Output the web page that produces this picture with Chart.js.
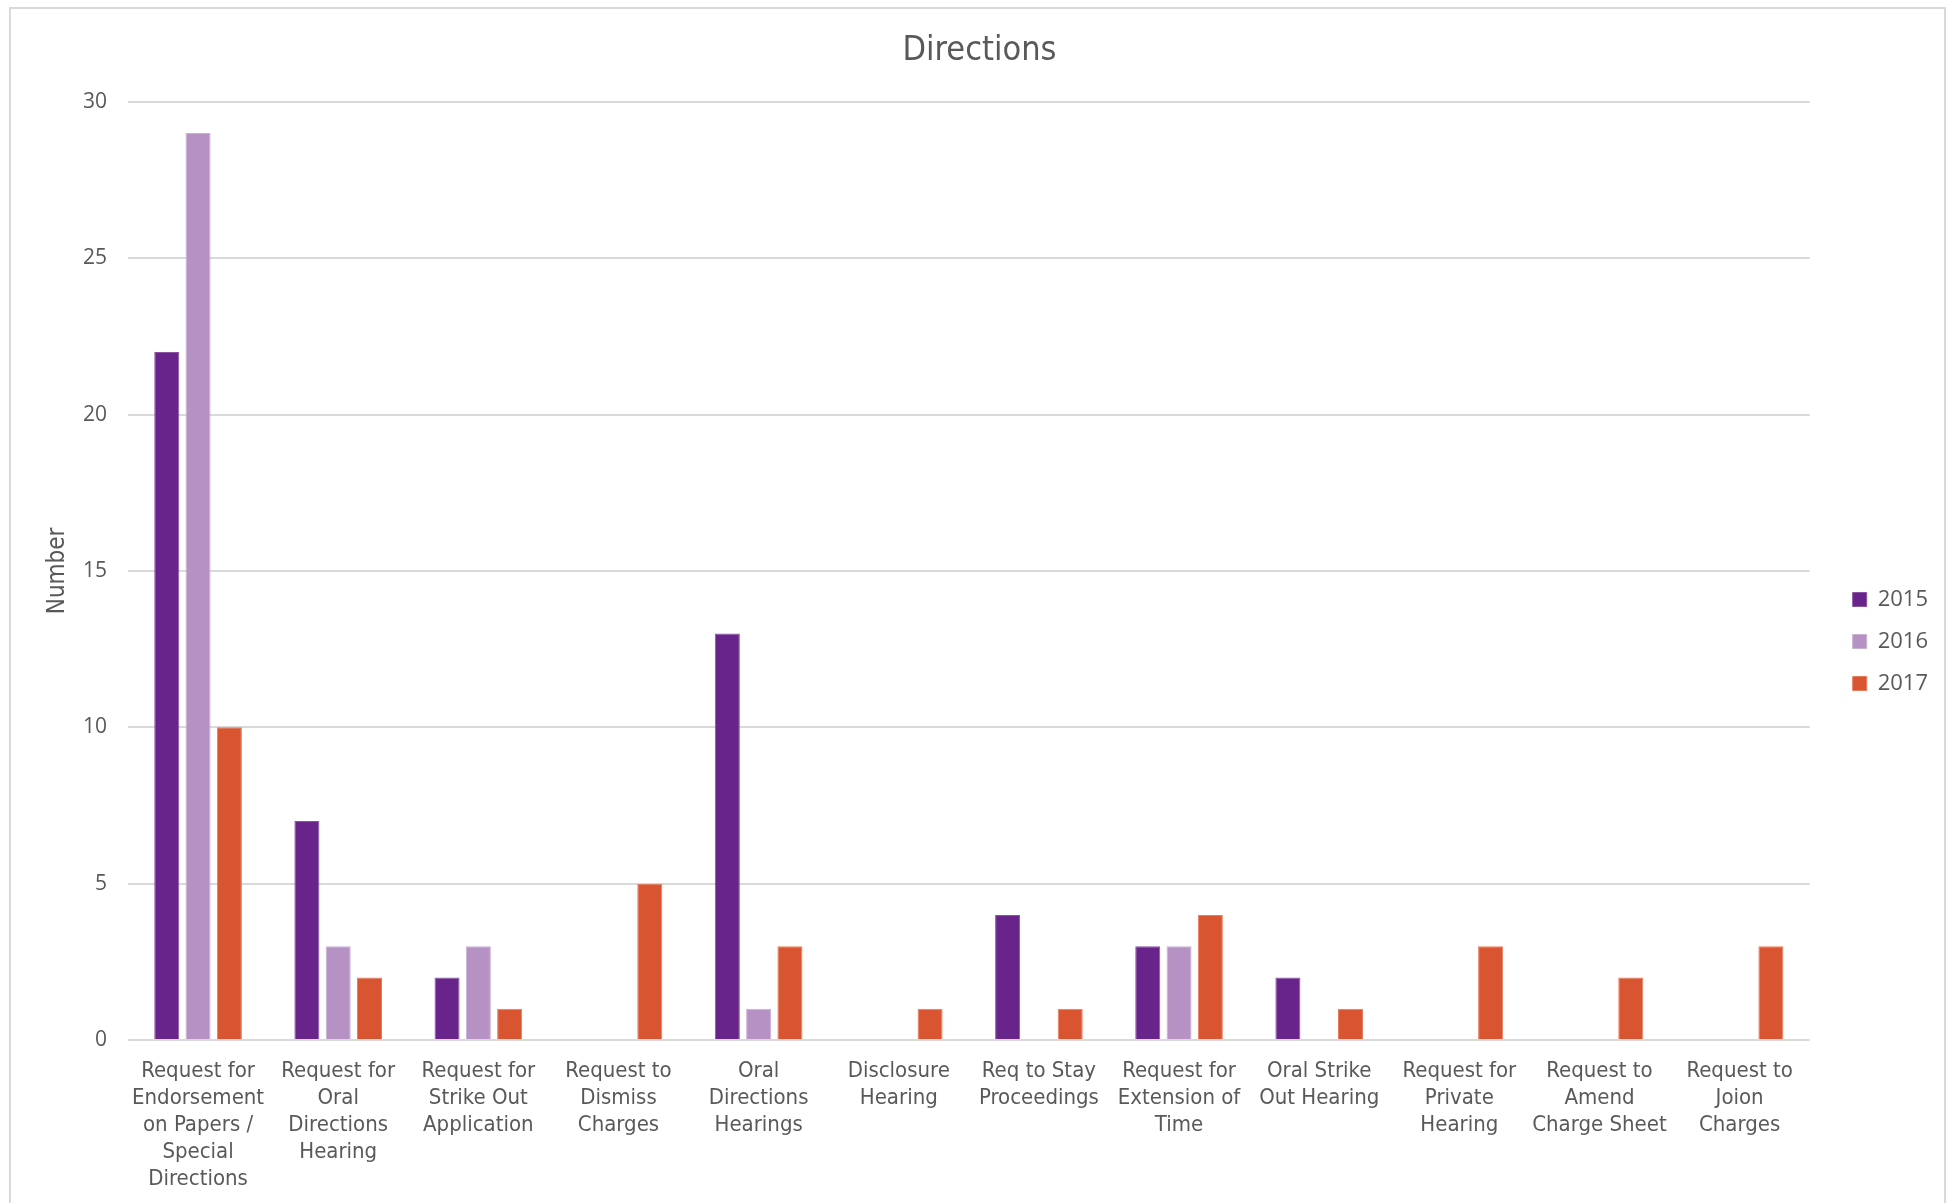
<!DOCTYPE html>
<html>
<head>
<meta charset="utf-8">
<title>Directions</title>
<script src="https://cdn.jsdelivr.net/npm/chart.js@4/dist/chart.umd.min.js"></script>
<style>
    html, body { margin: 0; padding: 0; background: #fff; }
    #wrap { position: relative; width: 1955px; height: 1203px; overflow: hidden; }
    #frame {
        position: absolute; left: 9px; top: 7px; width: 1937px; height: 1220px;
        border: 2px solid #d9d9d9; pointer-events: none; box-sizing: border-box;
    }
    canvas { position: absolute; left: 0; top: 0; }
</style>
</head>
<body>
<div id="wrap">
    <canvas id="chart" width="1955" height="1203"></canvas>
    <div id="frame"></div>
</div>
<script>
// ---------- DATA ----------
const categories = [
    ['Request for', 'Endorsement', 'on Papers /', 'Special', 'Directions'],
    ['Request for', 'Oral', 'Directions', 'Hearing'],
    ['Request for', 'Strike Out', 'Application'],
    ['Request to', 'Dismiss', 'Charges'],
    ['Oral', 'Directions', 'Hearings'],
    ['Disclosure', 'Hearing'],
    ['Req to Stay', 'Proceedings'],
    ['Request for', 'Extension of', 'Time'],
    ['Oral Strike', 'Out Hearing'],
    ['Request for', 'Private', 'Hearing'],
    ['Request to', 'Amend', 'Charge Sheet'],
    ['Request to', 'Joion', 'Charges']
];
const years = ['2015', '2016', '2017'];
const values2015 = [22, 7, 2, 0, 13, 0, 4, 3, 2, 0, 0, 0];
const values2016 = [29, 3, 3, 0, 1, 0, 0, 3, 0, 0, 0, 0];
const values2017 = [10, 2, 1, 5, 3, 1, 1, 4, 1, 3, 2, 3];
const yTicks = [0, 5, 10, 15, 20, 25, 30];

const colors = ['#68248a', '#b592c3', '#d95531'];
const edges = ['#8a52a3', '#c9b0d4', '#e67c5f'];

const textColor = '#595959';
const narrow = '"Liberation Sans Narrow", "DejaVu Sans Condensed", sans-serif';
const plain = '"Open Sans", "Noto Sans", sans-serif';

// legend sits a little right of and below where Chart.js puts it,
// and the title is centred on the whole canvas, not on the padded box
const nudge = {
    id: 'nudge',
    afterLayout(chart) {
        const l = chart.legend;
        if (l) {
            l.left += 23; l.right += 23;
            l.top += 40; l.bottom += 40;
        }
        const t = chart.titleBlock;
        if (t) { t.left += 22; t.right += 22; }
    }
};

const series = [values2015, values2016, values2017];

new Chart(document.getElementById('chart'), {
    type: 'bar',
    data: {
        labels: categories,
        datasets: years.map((y, i) => ({
            label: y,
            data: series[i],
            backgroundColor: colors[i],
            borderColor: edges[i],
            borderWidth: 1,
            categoryPercentage: 0.67,
            barPercentage: 0.8
        }))
    },
    options: {
        responsive: false,
        animation: false,
        devicePixelRatio: 1,
        layout: { padding: { left: 0, right: 40, top: 0, bottom: 0 } },
        plugins: {
            title: {
                display: true,
                text: 'Directions',
                color: textColor,
                font: { family: narrow, size: 34, weight: 'normal' },
                padding: { top: 31, bottom: 30 }
            },
            legend: {
                position: 'right',
                align: 'center',
                labels: {
                    color: textColor,
                    font: { family: plain, size: 22 },
                    boxWidth: 14,
                    boxHeight: 14,
                    padding: 20
                }
            },
            tooltip: { enabled: false }
        },
        scales: {
            x: {
                grid: { display: false },
                border: { display: false },
                ticks: {
                    color: textColor,
                    font: { family: narrow, size: 22, lineHeight: 1.23 },
                    padding: 10,
                    maxRotation: 0,
                    autoSkip: false
                },
                afterFit(scale) { scale.height = 163; }
            },
            y: {
                min: 0,
                max: 30,
                afterBuildTicks(scale) { scale.ticks = yTicks.map(v => ({ value: v })); },
                grid: { color: '#d9d9d9', lineWidth: 2, drawTicks: false },
                border: { display: false },
                ticks: {
                    color: textColor,
                    font: { family: plain, size: 21 },
                    padding: 21
                },
                title: {
                    display: true,
                    text: 'Number',
                    color: textColor,
                    font: { family: narrow, size: 24 },
                    padding: { top: 43, bottom: 0 }
                },
                afterFit(scale) { scale.width = 128; }
            }
        }
    },
    plugins: [nudge]
});
</script>
</body>
</html>
